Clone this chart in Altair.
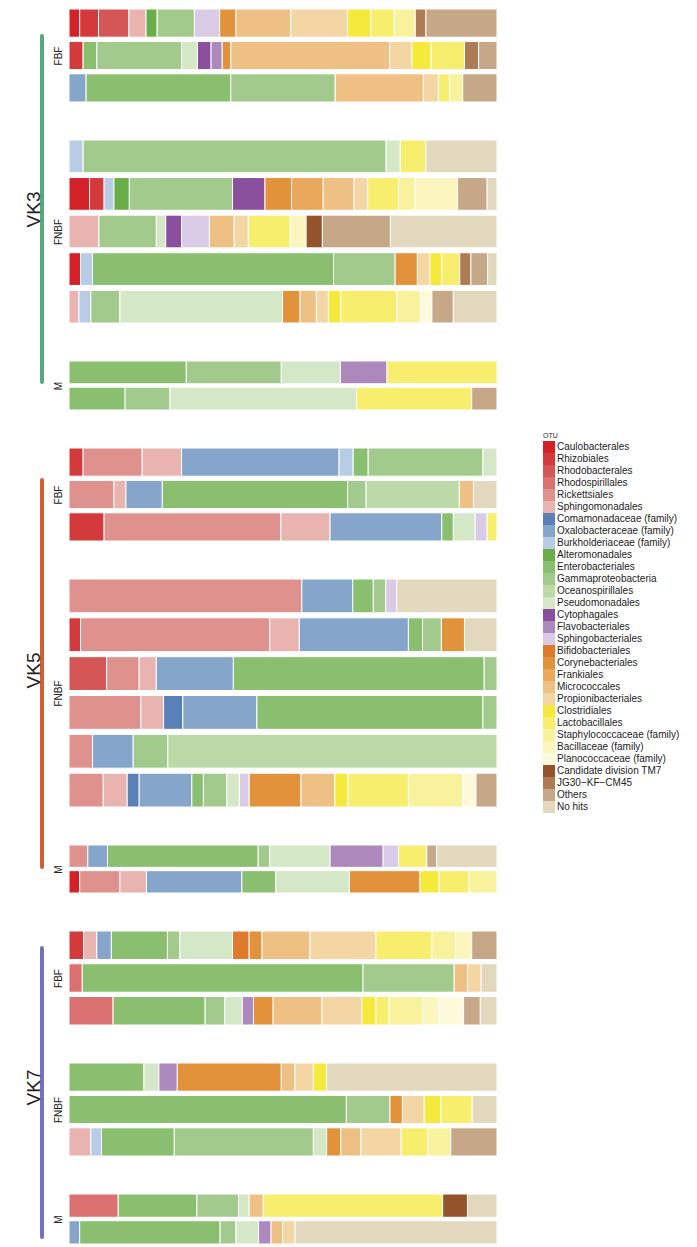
import altair as alt
import pandas as pd

CODES = ["Caul", "Rhiz", "Rhdb", "Rhds", "Rick", "Sphm", "Coma", "Oxal", "Burk",
         "Alte", "Ente", "Gamm", "Ocea", "Pseu", "Cyto", "Flav", "Sphb",
         "Bifi", "Cory", "Fran", "Micr", "Prop", "Clos", "Lact", "Stap", "Baci", "Plan",
         "TM7", "JG30", "Oth", "NoH"]
TAXA = ["Caulobacterales", "Rhizobiales", "Rhodobacterales", "Rhodospirillales",
        "Rickettsiales", "Sphingomonadales", "Comamonadaceae (family)",
        "Oxalobacteraceae (family)", "Burkholderiaceae (family)", "Alteromonadales",
        "Enterobacteriales", "Gammaproteobacteria", "Oceanospirillales",
        "Pseudomonadales", "Cytophagales", "Flavobacteriales", "Sphingobacteriales",
        "Bifidobacteriales", "Corynebacteriales", "Frankiales", "Micrococcales",
        "Propionibacteriales", "Clostridiales", "Lactobacillales",
        "Staphylococcaceae (family)", "Bacillaceae (family)", "Planococcaceae (family)",
        "Candidate division TM7", "JG30\u2212KF\u2212CM45", "Others", "No hits"]
COLORS = ["#d42027", "#d4393c", "#d45656", "#db7070", "#df918d", "#e9b3b0",
          "#5a80ba", "#85a5cb", "#b8cce5",
          "#6aae4a", "#89bf6e", "#a2ca8c", "#bcd9a8", "#d4e7c7",
          "#8a4f9d", "#ad88bd", "#d9cbe5",
          "#df7a2c", "#e2923a", "#e9a85c", "#eec083", "#f4d6a5",
          "#f5e93c", "#f7ee6e", "#f9f29c", "#fbf6bd", "#fdfadc",
          "#94532b", "#ae7b55", "#c6a889", "#e1d8bd"]

# ---- VK3 ----
VK3_FBF_1 = [("Caul", 2.5), ("Rhiz", 4.4), ("Rhdb", 7.1), ("Sphm", 4.0), ("Alte", 2.6), ("Gamm", 8.7),
             ("Sphb", 5.9), ("Cory", 3.8), ("Micr", 12.8), ("Prop", 13.3), ("Clos", 5.4), ("Lact", 5.5),
             ("Stap", 4.9), ("JG30", 2.5), ("Oth", 16.6)]
VK3_FBF_2 = [("Rhiz", 3.3), ("Ente", 3.2), ("Gamm", 19.8), ("Pseu", 3.7), ("Cyto", 3.2), ("Flav", 2.6),
             ("Cory", 2.0), ("Micr", 37.1), ("Prop", 5.2), ("Clos", 4.5), ("Lact", 7.8), ("JG30", 3.3),
             ("Oth", 4.3)]
VK3_FBF_3 = [("Oxal", 4.0), ("Ente", 33.8), ("Gamm", 24.4), ("Micr", 20.6), ("Prop", 3.5), ("Lact", 2.6),
             ("Stap", 3.1), ("Oth", 8.0)]
VK3_FNBF_1 = [("Burk", 3.3), ("Gamm", 70.8), ("Pseu", 3.3), ("Lact", 6.0), ("NoH", 16.6)]
VK3_FNBF_2 = [("Caul", 4.8), ("Rhiz", 3.4), ("Burk", 2.3), ("Alte", 3.6), ("Gamm", 24.1), ("Cyto", 7.6),
              ("Cory", 6.2), ("Fran", 7.4), ("Micr", 7.2), ("Prop", 3.2), ("Lact", 7.2), ("Stap", 3.9),
              ("Baci", 9.9), ("Oth", 6.9), ("NoH", 2.3)]
VK3_FNBF_3 = [("Sphm", 7.0), ("Gamm", 13.4), ("Pseu", 2.2), ("Cyto", 3.7), ("Sphb", 6.5), ("Micr", 5.8),
              ("Prop", 3.3), ("Lact", 9.8), ("Baci", 3.7), ("TM7", 3.8), ("Oth", 15.9), ("NoH", 24.9)]
VK3_FNBF_4 = [("Caul", 2.7), ("Burk", 2.8), ("Ente", 56.3), ("Gamm", 14.4), ("Cory", 5.2), ("Prop", 2.9),
              ("Clos", 2.8), ("Lact", 4.2), ("JG30", 2.6), ("Oth", 3.9), ("NoH", 2.2)]
VK3_FNBF_5 = [("Sphm", 2.3), ("Burk", 2.8), ("Gamm", 6.8), ("Pseu", 38.0), ("Cory", 4.1), ("Micr", 3.8),
              ("Prop", 2.8), ("Clos", 2.9), ("Lact", 13.1), ("Stap", 5.5), ("Plan", 2.7), ("Oth", 5.0),
              ("NoH", 10.2)]
VK3_M_1 = [("Ente", 27.4), ("Gamm", 22.2), ("Pseu", 13.8), ("Flav", 10.9), ("Lact", 25.7)]
VK3_M_2 = [("Ente", 13.1), ("Gamm", 10.5), ("Pseu", 43.6), ("Lact", 26.9), ("Oth", 5.9)]

# ---- VK5 ----
VK5_FBF_1 = [("Rhiz", 3.3), ("Rick", 13.8), ("Sphm", 9.2), ("Oxal", 36.8), ("Burk", 3.3), ("Ente", 3.5),
             ("Gamm", 26.8), ("Pseu", 3.3)]
VK5_FBF_2 = [("Rick", 10.5), ("Sphm", 2.8), ("Oxal", 8.5), ("Ente", 43.3), ("Gamm", 4.3), ("Ocea", 21.8),
             ("Micr", 3.3), ("NoH", 5.5)]
VK5_FBF_3 = [("Rhiz", 8.2), ("Rick", 41.3), ("Sphm", 11.5), ("Oxal", 26.1), ("Ente", 2.7), ("Pseu", 5.1),
             ("Sphb", 2.8), ("Lact", 2.3)]
VK5_FNBF_1 = [("Rick", 54.4), ("Oxal", 11.9), ("Ente", 4.8), ("Gamm", 2.9), ("Sphb", 2.6), ("NoH", 23.4)]
VK5_FNBF_2 = [("Rhiz", 2.7), ("Rick", 44.2), ("Sphm", 6.9), ("Oxal", 25.5), ("Ente", 3.3), ("Gamm", 4.4),
              ("Cory", 5.4), ("NoH", 7.6)]
VK5_FNBF_3 = [("Rhdb", 8.8), ("Rick", 7.6), ("Sphm", 4.0), ("Oxal", 18.0), ("Ente", 58.6), ("Gamm", 3.0)]
VK5_FNBF_4 = [("Rick", 16.8), ("Sphm", 5.3), ("Coma", 4.5), ("Oxal", 17.3), ("Ente", 52.8), ("Gamm", 3.3)]
VK5_FNBF_5 = [("Rick", 5.5), ("Oxal", 9.5), ("Gamm", 8.1), ("Ocea", 76.9)]
VK5_FNBF_6 = [("Rick", 8.0), ("Sphm", 5.6), ("Coma", 2.8), ("Oxal", 12.3), ("Ente", 2.7), ("Gamm", 5.5),
              ("Pseu", 2.9), ("Sphb", 2.3), ("Cory", 12.1), ("Micr", 7.9), ("Clos", 3.1), ("Lact", 14.1),
              ("Stap", 12.7), ("Plan", 3.1), ("Oth", 4.9)]
VK5_M_1 = [("Rick", 4.4), ("Oxal", 4.6), ("Ente", 35.2), ("Gamm", 2.7), ("Pseu", 14.1), ("Flav", 12.4),
           ("Sphb", 3.6), ("Lact", 6.6), ("Oth", 2.3), ("NoH", 14.1)]
VK5_M_2 = [("Caul", 2.5), ("Rick", 9.4), ("Sphm", 6.2), ("Oxal", 22.3), ("Ente", 7.9), ("Pseu", 17.2),
           ("Cory", 16.5), ("Clos", 4.5), ("Lact", 7.0), ("Stap", 6.5)]

# ---- VK7 ----
VK7_FBF_1 = [("Rhiz", 3.4), ("Sphm", 3.1), ("Oxal", 3.4), ("Ente", 13.1), ("Gamm", 2.9), ("Pseu", 12.3),
             ("Bifi", 3.9), ("Cory", 3.0), ("Micr", 11.2), ("Prop", 15.4), ("Lact", 13.1), ("Stap", 5.5),
             ("Baci", 3.8), ("Oth", 5.9)]
VK7_FBF_2 = [("Rhds", 3.1), ("Ente", 65.6), ("Gamm", 21.3), ("Micr", 3.1), ("Prop", 3.2), ("NoH", 3.7)]
VK7_FBF_3 = [("Rhds", 10.3), ("Ente", 21.5), ("Gamm", 4.6), ("Pseu", 4.1), ("Flav", 2.6), ("Cory", 4.6),
             ("Micr", 11.4), ("Prop", 9.3), ("Clos", 3.3), ("Lact", 3.1), ("Stap", 7.8), ("Baci", 3.8),
             ("Plan", 5.8), ("Oth", 3.9), ("NoH", 3.9)]
VK7_FNBF_1 = [("Ente", 17.5), ("Pseu", 3.5), ("Flav", 4.3), ("Cory", 24.3), ("Micr", 3.2), ("Prop", 4.3),
              ("Clos", 3.1), ("NoH", 39.8)]
VK7_FNBF_2 = [("Ente", 64.8), ("Gamm", 10.2), ("Cory", 2.9), ("Prop", 5.1), ("Clos", 3.9), ("Lact", 7.3),
              ("NoH", 5.8)]
VK7_FNBF_3 = [("Sphm", 5.1), ("Burk", 2.5), ("Ente", 17.0), ("Gamm", 32.5), ("Pseu", 3.1), ("Cory", 3.3),
              ("Micr", 4.7), ("Prop", 9.4), ("Lact", 6.3), ("Stap", 5.3), ("Oth", 10.8)]
VK7_M_1 = [("Rhds", 11.5), ("Ente", 18.4), ("Gamm", 9.7), ("Pseu", 2.5), ("Micr", 3.3), ("Lact", 41.9),
           ("TM7", 5.8), ("NoH", 6.9)]
VK7_M_2 = [("Oxal", 2.5), ("Ente", 32.8), ("Gamm", 3.7), ("Pseu", 5.3), ("Flav", 2.9), ("Micr", 2.7),
           ("Prop", 2.9), ("NoH", 47.2)]

GROUPS = ["VK3", "VK5", "VK7"]
GROUP_COLORS = ["#55a97b", "#d3602d", "#7470c2"]
SUBGROUPS = ["FBF", "FNBF", "M"]
PANEL_ROWS = {
    ("VK3", "FBF"): [VK3_FBF_1, VK3_FBF_2, VK3_FBF_3],
    ("VK3", "FNBF"): [VK3_FNBF_1, VK3_FNBF_2, VK3_FNBF_3, VK3_FNBF_4, VK3_FNBF_5],
    ("VK3", "M"): [VK3_M_1, VK3_M_2],
    ("VK5", "FBF"): [VK5_FBF_1, VK5_FBF_2, VK5_FBF_3],
    ("VK5", "FNBF"): [VK5_FNBF_1, VK5_FNBF_2, VK5_FNBF_3, VK5_FNBF_4, VK5_FNBF_5, VK5_FNBF_6],
    ("VK5", "M"): [VK5_M_1, VK5_M_2],
    ("VK7", "FBF"): [VK7_FBF_1, VK7_FBF_2, VK7_FBF_3],
    ("VK7", "FNBF"): [VK7_FNBF_1, VK7_FNBF_2, VK7_FNBF_3],
    ("VK7", "M"): [VK7_M_1, VK7_M_2],
}

# layout (pixels)
PANEL_H = {
    ("VK3", "FBF"): 93, ("VK3", "FNBF"): 183, ("VK3", "M"): 49,
    ("VK5", "FBF"): 93, ("VK5", "FNBF"): 228, ("VK5", "M"): 48,
    ("VK7", "FBF"): 94, ("VK7", "FNBF"): 93, ("VK7", "M"): 50,
}
LINE_INSETS = {"VK3": (27, 28), "VK5": (32, 26), "VK7": (17, 7)}
BAR_W = 428
VSPACE = 38
GROUP_W = 40
FONT = "Liberation Sans"

color_scale = alt.Scale(domain=TAXA, range=COLORS)


def bar_panel(rows, title, height):
    recs = []
    for i, row in enumerate(rows):
        for code, v in row:
            k = CODES.index(code)
            recs.append({"row": i + 1, "taxon": TAXA[k], "idx": k, "value": v})
    df = pd.DataFrame(recs)
    return alt.Chart(df).mark_bar(stroke="white", strokeWidth=1).encode(
        x=alt.X("value:Q", stack="normalize", axis=None,
                scale=alt.Scale(domain=[0, 1], nice=False)),
        y=alt.Y("row:O",
                axis=alt.Axis(title=title, labels=False, ticks=False, domain=False,
                              minExtent=0, titlePadding=6, titleFontSize=10,
                              titleFontWeight="normal", titleColor="#222222", titleFont=FONT),
                scale=alt.Scale(paddingInner=0.13, paddingOuter=0)),
        color=alt.Color("taxon:N", scale=color_scale, legend=alt.Legend(title="OTU")),
        order=alt.Order("idx:Q", sort="ascending"),
        tooltip=["taxon:N", "value:Q"],
    ).properties(width=BAR_W, height=height)


def group_panel(label, color, height):
    top, bottom = LINE_INSETS[label]
    base = alt.Chart(alt.Data(values=[{"g": label}]))
    rule = base.mark_rule(color=color, strokeWidth=4, strokeCap="round").encode(
        x=alt.value(33), y=alt.value(top), y2=alt.value(height - bottom))
    text = base.mark_text(angle=270, fontSize=19, color="#222222", font=FONT,
                          align="center", baseline="middle").encode(
        x=alt.value(25), y=alt.value(height / 2), text="g:N")
    return alt.layer(rule, text).properties(width=GROUP_W, height=height)


bar_panels = []
group_panels = []
for g, gc in zip(GROUPS, GROUP_COLORS):
    gh = 0
    for s in SUBGROUPS:
        h = PANEL_H[(g, s)]
        bar_panels.append(bar_panel(PANEL_ROWS[(g, s)], s, h))
        gh += h
    gh += VSPACE * (len(SUBGROUPS) - 1)
    group_panels.append(group_panel(g, gc, gh))

bars_col = alt.vconcat(*bar_panels, spacing=VSPACE, bounds="flush")
group_col = alt.vconcat(*group_panels, spacing=VSPACE, bounds="flush")

chart = alt.hconcat(group_col, bars_col, spacing=2, bounds="full").properties(
    padding=0
).configure(font=FONT).configure_view(stroke="transparent").configure_legend(
    orient="none", legendX=534, legendY=423, symbolType="square", symbolSize=144,
    symbolStrokeWidth=0, symbolOpacity=1, labelFontSize=10, labelColor="#222222",
    titleFontSize=7, titleFontWeight="normal", titleColor="#222222", titlePadding=2,
    labelOffset=2, rowPadding=0, labelLimit=300, padding=0, symbolOffset=0,
    symbolLimit=40,
)

chart.save("out.html", embed_options={"renderer": "svg", "actions": False})
